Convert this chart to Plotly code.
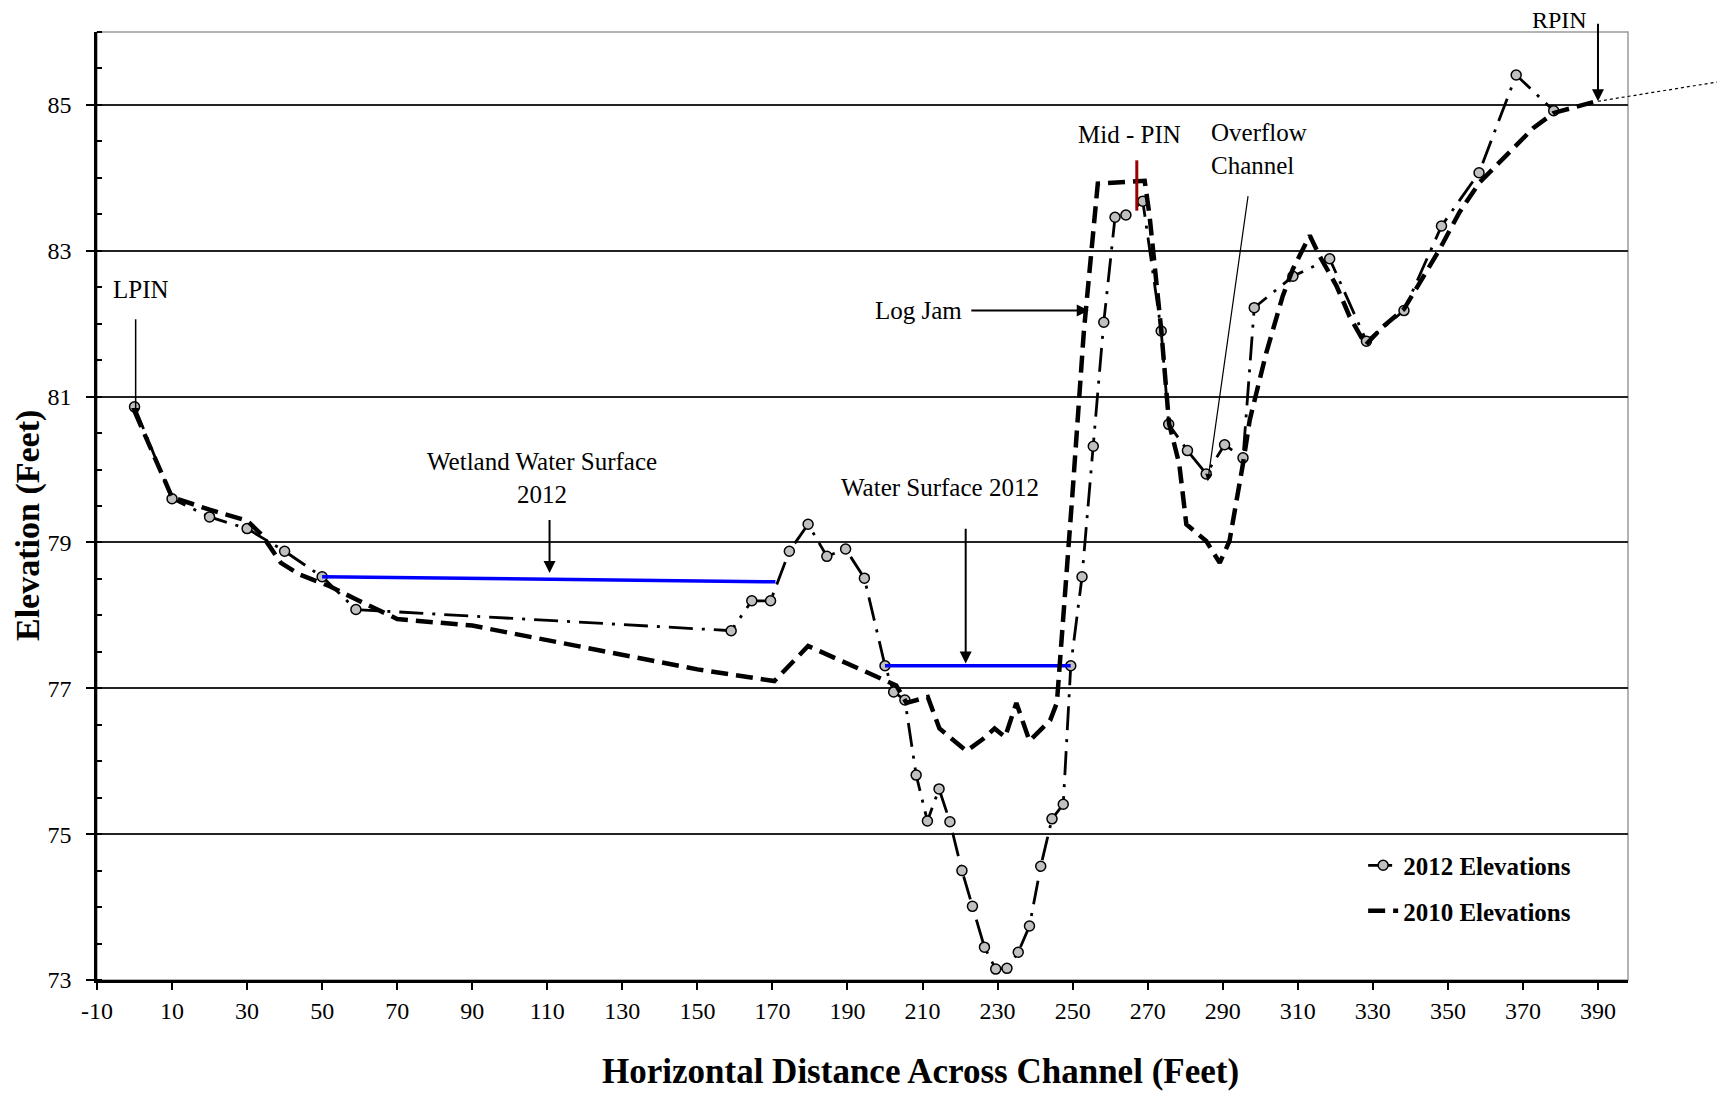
import plotly.graph_objects as go

# ---------------- data ----------------
x2012 = [0, 10, 20, 30, 40, 50, 59, 159, 164.5, 169.5, 174.5, 179.5, 184.5, 189.5, 194.5,
         200, 202.3, 205.3, 208.3, 211.3, 214.4, 217.3, 220.5, 223.3, 226.5, 229.5, 232.5,
         235.5, 238.5, 241.5, 244.5, 247.5, 249.5, 252.5, 255.5, 258.3, 261.3, 264.2, 268.7,
         273.6, 275.6, 280.6, 285.6, 290.5, 295.4, 298.4, 308.7, 318.5, 328.3, 338.3, 348.3,
         358.3, 368.2, 378.2]
y2012 = [80.86, 79.6, 79.35, 79.19, 78.88, 78.53, 78.08, 77.79, 78.2, 78.2, 78.88, 79.25,
         78.81, 78.91, 78.51, 77.31, 76.95, 76.84, 75.81, 75.18, 75.62, 75.17, 74.5, 74.01,
         73.45, 73.15, 73.16, 73.38, 73.74, 74.56, 75.21, 75.41, 77.31, 78.53, 80.32, 82.02,
         83.46, 83.49, 83.68, 81.9, 80.62, 80.26, 79.94, 80.34, 80.16, 82.22, 82.65, 82.89,
         81.76, 82.18, 83.34, 84.07, 85.41, 84.92]

x2010 = [0, 10, 20, 30, 34, 39, 44, 52, 59, 64, 70, 90, 110, 130, 150, 170.5, 179.5, 203,
         205.7, 211.4, 214.5, 221.7, 226, 229.2, 232, 235, 238.5, 244, 245.8, 250, 253,
         256.7, 269.2, 270.5, 273.6, 275.7, 278.4, 280.3, 285.6, 289.2, 291.8, 295.4, 297.2,
         301.6, 306, 308.7, 313.2, 315.8, 320.3, 323.8, 328.1, 332.7, 338.3, 347.8, 353.1,
         358.5, 365.6, 372.7, 378.2, 389.6]
y2010 = [80.8, 79.62, 79.45, 79.3, 79.1, 78.72, 78.56, 78.4, 78.22, 78.1, 77.95, 77.86,
         77.66, 77.46, 77.26, 77.1, 77.58, 77.04, 76.8, 76.88, 76.45, 76.14, 76.3, 76.45,
         76.33, 76.8, 76.28, 76.56, 76.8, 79.7, 81.9, 83.92, 83.96, 83.48, 81.92, 80.63,
         80.08, 79.25, 79.02, 78.72, 79.02, 80.08, 80.68, 81.6, 82.38, 82.75, 83.21, 82.93,
         82.52, 82.1, 81.71, 81.96, 82.2, 83.02, 83.53, 83.94, 84.31, 84.68, 84.89, 85.05]

wetland_x = [50, 170.8]
wetland_y = [78.53, 78.46]
water_x = [200, 249.5]
water_y = [77.31, 77.31]
midpin_x = [267.1, 267.1]
midpin_y = [83.55, 84.24]

x_ticks = list(range(-10, 391, 20))
y_ticks = list(range(73, 86, 2))

XR = [-10, 398]
YR = [73, 86]

FONT = "Liberation Serif, Times New Roman, serif"


def px_x(v):
    return (v - XR[0]) / (XR[1] - XR[0])


def px_y(v):
    return (v - YR[0]) / (YR[1] - YR[0])


fig = go.Figure()

fig.add_trace(go.Scatter(
    x=x2012, y=y2012, mode="lines+markers", name="<b>2012 Elevations</b>",
    line=dict(color="black", width=2.8, dash="24px,9px,3px,9px"),
    marker=dict(symbol="circle", size=10, color="#c0c0c0",
                line=dict(color="black", width=1.5)),
    legendgroup="a"))

fig.add_trace(go.Scatter(
    x=wetland_x, y=wetland_y, mode="lines", showlegend=False,
    line=dict(color="#0000ff", width=3.5)))
fig.add_trace(go.Scatter(
    x=water_x, y=water_y, mode="lines", showlegend=False,
    line=dict(color="#0000ff", width=3.5)))

fig.add_trace(go.Scatter(
    x=x2010, y=y2010, mode="lines", name="<b>2010 Elevations</b>",
    line=dict(color="black", width=4.5, dash="17px,8px"),
    legendgroup="b"))

fig.add_trace(go.Scatter(
    x=midpin_x, y=midpin_y, mode="lines", showlegend=False,
    line=dict(color="#990000", width=3)))

# ---------------- annotations ----------------
ann_font = dict(family=FONT, size=25, color="black")
anns = []


def text(x, y, t, xanchor="center", align="center", xref="x", yref="y", size=25):
    anns.append(dict(x=x, y=y, xref=xref, yref=yref, text=t, showarrow=False,
                     xanchor=xanchor, yanchor="middle", align=align,
                     font=dict(family=FONT, size=size, color="black")))


def arrow(x, y, ax, ay, w=2.0, size=1.2):
    anns.append(dict(x=x, y=y, ax=ax, ay=ay, xref="x", yref="y", axref="x", ayref="y",
                     text="", showarrow=True, arrowhead=2, arrowsize=size,
                     arrowwidth=w, arrowcolor="black"))


text(1.6, 82.47, "LPIN")
arrow(0.3, 80.72, 0.3, 82.08, w=1.5)

text(108.5, 79.89, "Wetland Water Surface<br>2012")
arrow(110.6, 78.58, 110.6, 79.33)

text(214.7, 79.76, "Water Surface 2012")
arrow(221.5, 77.34, 221.5, 79.21)

text(221.0, 82.18, "Log Jam", xanchor="right")
arrow(254.3, 82.18, 222.6, 82.18)

text(265.2, 84.6, "Mid - PIN")

text(286.3, 84.39, "Overflow<br>Channel", xanchor="left", align="left")
arrow(286.0, 79.84, 296.8, 83.77, w=1.2)

text(px_x(379.8), px_y(86.17), "RPIN", xref="paper", yref="paper", size=24)
anns.append(dict(x=390, y=85.05, xref="x", yref="y", ax=0, ay=-79, text="",
                 showarrow=True, arrowhead=2, arrowsize=1.2, arrowwidth=2,
                 arrowcolor="black"))

# axis titles
anns.append(dict(x=px_x(209.5), y=-0.097, xref="paper", yref="paper",
                 text="<b>Horizontal Distance Across Channel (Feet)</b>", showarrow=False,
                 xanchor="center", yanchor="middle",
                 font=dict(family=FONT, size=35, color="black")))
anns.append(dict(x=-0.045, y=0.479, xref="paper", yref="paper",
                 text="<b>Elevation (Feet)</b>", showarrow=False, textangle=-90,
                 xanchor="center", yanchor="middle",
                 font=dict(family=FONT, size=34, color="black")))

shapes = [
    dict(type="rect", xref="paper", yref="paper", x0=0, x1=1, y0=0, y1=1,
         line=dict(color="#9a9a9a", width=1.5), layer="below"),
    dict(type="line", xref="paper", yref="paper",
         x0=px_x(390), y0=px_y(85.05), x1=px_x(423.7), y1=px_y(85.33),
         line=dict(color="black", width=1.2, dash="dot")),
]

fig.update_layout(
    width=1717, height=1088,
    margin=dict(l=89, r=97, t=24, b=116),
    paper_bgcolor="white", plot_bgcolor="white",
    font=dict(family=FONT, size=24, color="black"),
    annotations=anns, shapes=shapes,
    showlegend=True,
    legend=dict(x=0.827, y=0.145, xanchor="left", yanchor="top",
                bgcolor="rgba(0,0,0,0)", traceorder="grouped", tracegroupgap=10,
                font=dict(family=FONT, size=25, color="black")),
    hovermode=False,
)

fig.update_xaxes(
    range=XR, tickmode="array", tickvals=x_ticks, ticktext=[str(v) for v in x_ticks],
    showgrid=False, zeroline=False,
    showline=True, linecolor="black", linewidth=2.5,
    ticks="outside", ticklen=7, tickwidth=2, tickcolor="black",
    ticklabelstandoff=0,
    tickfont=dict(family=FONT, size=24, color="black"))

fig.update_yaxes(
    range=YR, tickmode="array", tickvals=y_ticks, ticktext=[str(v) for v in y_ticks],
    showgrid=True, gridcolor="#222222", gridwidth=1.5, zeroline=False,
    showline=True, linecolor="black", linewidth=2.5,
    ticks="outside", ticklen=8, tickwidth=2, tickcolor="black",
    ticklabelstandoff=10,
    minor=dict(tickmode="linear", tick0=73, dtick=0.5, ticks="inside", ticklen=5,
               tickwidth=1.5, tickcolor="black", showgrid=False),
    tickfont=dict(family=FONT, size=24, color="black"))

fig.write_html("out.html", config=dict(displayModeBar=False))
